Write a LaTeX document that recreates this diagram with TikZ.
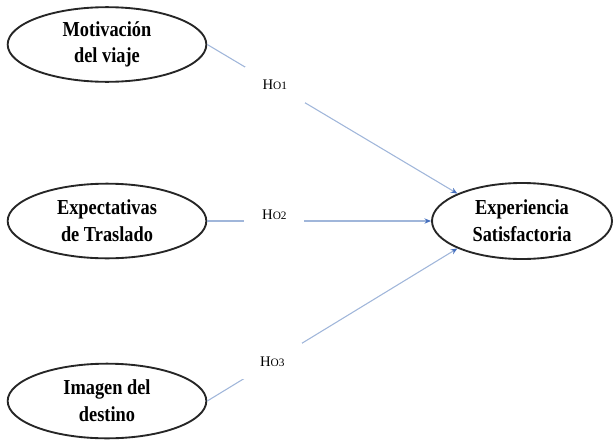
\documentclass[tikz,border=0pt]{standalone}
\usepackage{fontspec}
\setmainfont{Liberation Serif}
\newfontfamily\narrowserif[FakeStretch=0.86]{Liberation Serif}
\usepackage{tikz}
\usetikzlibrary{shapes.geometric,arrows.meta}
\definecolor{linkblue}{RGB}{160,182,218}
\definecolor{tipblue}{RGB}{70,112,190}

\begin{document}
\begin{tikzpicture}[x=0.75pt, y=-0.75pt]

\tikzstyle{every node} = [ellipse, draw=black!85, line width=1.4pt, inner sep=0pt,
  minimum width=149pt, minimum height=56pt, align=center,
  font=\narrowserif\fontsize{16}{20}\selectfont\bfseries]
\tikzstyle{rel} = [draw=linkblue, line width=0.8pt, -{Stealth[length=5pt, width=4pt, color=tipblue]}]
\tikzstyle{hyp} = [rectangle, draw=none, fill=white, minimum width=45pt, minimum height=27pt,
  font=\rmfamily\fontsize{11}{12}\selectfont\mdseries]

\useasboundingbox (0,0) rectangle (613,439);

\node (mot) at (107,44.5) {Motivación\\del viaje};
\node (expt) at (107,221) {Expectativas\\de Traslado};
\node (img) at (107,401) {Imagen del\\destino};

\node[minimum width=135pt, minimum height=57pt] (sat) at (522,221) {Experiencia\\Satisfactoria};

\draw[rel] (mot.east) -- node[hyp, pos=0.27] {H{\fontsize{8.5}{9}\selectfont O1}} (sat.157);
\draw[rel] (expt.east) -- node[hyp, pos=0.3, text depth=9pt] {H{\fontsize{8.5}{9}\selectfont O2}} (sat.west);
\draw[rel] (img.east) -- node[hyp, pos=0.26] {H{\fontsize{8.5}{9}\selectfont O3}} (sat.203);

\end{tikzpicture}
\end{document}
